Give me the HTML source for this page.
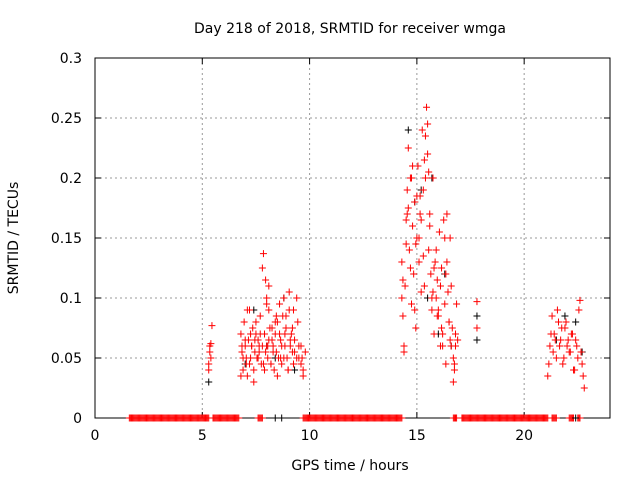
<!DOCTYPE html>
<html><head><meta charset="utf-8"><style>
body{margin:0;background:#fff}
svg{display:block;font-family:"DejaVu Sans","Liberation Sans",sans-serif}
</style></head><body>
<svg id="c" width="640" height="480" viewBox="0 0 640 480">
<rect width="640" height="480" fill="#fff"/>
<text x="350" y="33" font-size="14" text-anchor="middle" fill="#000">Day 218 of 2018, SRMTID for receiver wmga</text>
<text x="350" y="470" font-size="14" text-anchor="middle">GPS time / hours</text>
<text transform="translate(18,238) rotate(-90)" font-size="14" text-anchor="middle">SRMTID / TECUs</text>
<g id="grid"></g>
<g id="axes"></g>
<g id="zeros"></g>
<g id="black"></g>
<g id="red"></g>
</svg>
<script>
const xTicks=[0,5,10,15,20];
const yTicks=[0,0.05,0.1,0.15,0.2,0.25,0.3];
const yTickLabels=["0","0.05","0.1","0.15","0.2","0.25","0.3"];
const zeroRanges=[[1.6,5.3],[5.5,6.7],[7.6,7.8],[9.7,14.3],[16.7,16.85],[17.1,21.1],[21.3,21.5],[22.1,22.3],[22.5,22.6]];
const redHours=[5.3,5.35,5.4,5.3,5.45,5.35,5.4,
6.8,6.85,6.9,6.95,7.0,7.05,7.1,7.15,7.2,7.25,7.3,7.35,7.4,7.45,7.5,7.55,7.6,7.65,7.7,7.75,7.8,7.85,7.9,7.95,8.0,8.05,8.1,8.15,8.2,8.25,8.3,8.35,8.4,8.45,8.5,8.55,8.6,8.65,8.7,8.75,8.8,8.85,8.9,8.95,9.0,9.05,9.1,9.15,9.2,9.25,9.3,9.4,9.5,9.6,9.7,9.8,
6.8,6.9,7.0,7.1,7.2,7.3,7.4,7.5,7.6,7.7,7.8,7.9,8.0,8.1,8.2,8.3,8.4,8.5,8.6,8.7,8.8,8.9,9.0,9.1,9.2,9.3,9.4,9.5,9.6,9.7,
6.85,7.05,7.25,7.45,7.65,7.85,8.05,8.25,8.45,8.65,8.85,9.05,9.25,9.45,9.65,7.95,8.0,8.1,
14.3,14.35,14.4,14.45,14.5,14.55,14.6,14.65,14.7,14.75,14.8,14.85,14.9,14.95,15.0,15.05,15.1,15.15,15.2,15.25,15.3,15.35,15.4,15.45,15.5,15.55,15.6,15.65,15.7,15.75,15.8,15.85,15.9,15.95,16.0,16.05,16.1,16.15,16.2,16.25,16.3,16.35,16.4,16.45,16.5,16.55,16.6,16.65,16.7,16.75,16.8,16.85,16.9,
14.3,14.4,14.5,14.6,14.7,14.8,14.9,15.0,15.1,15.2,15.3,15.4,15.5,15.6,15.7,15.8,15.9,16.0,16.1,16.2,16.3,16.4,16.5,16.6,16.7,16.8,
14.35,14.55,14.75,14.95,15.15,15.35,15.55,15.75,15.95,16.15,16.35,16.55,16.75,
17.8,17.8,
21.1,21.2,21.3,21.4,21.5,21.6,21.7,21.8,21.9,22.0,22.1,22.2,22.3,22.4,22.5,22.6,22.7,22.8,
21.15,21.25,21.35,21.45,21.55,21.65,21.75,21.85,21.95,22.05,22.15,22.25,22.35,22.45,22.55,22.65,22.75];
const redValues=[0.045,0.055,0.062,0.04,0.077,0.06,0.05,
0.07,0.055,0.04,0.08,0.06,0.045,0.035,0.065,0.09,0.05,0.06,0.075,0.04,0.055,0.07,0.05,0.065,0.06,0.085,0.045,0.125,0.137,0.07,0.055,0.06,0.05,0.09,0.075,0.045,0.065,0.06,0.04,0.07,0.055,0.08,0.05,0.095,0.065,0.045,0.085,0.1,0.06,0.075,0.05,0.04,0.09,0.06,0.07,0.055,0.045,0.065,0.1,0.05,0.06,0.04,0.055,
0.035,0.05,0.065,0.09,0.045,0.06,0.03,0.08,0.05,0.07,0.06,0.04,0.1,0.065,0.045,0.055,0.08,0.035,0.07,0.06,0.05,0.085,0.04,0.065,0.075,0.055,0.05,0.06,0.045,0.035,
0.06,0.05,0.07,0.065,0.055,0.045,0.06,0.075,0.085,0.05,0.07,0.105,0.09,0.08,0.05,0.115,0.095,0.11,
0.13,0.085,0.06,0.11,0.165,0.19,0.225,0.14,0.2,0.095,0.16,0.12,0.18,0.075,0.15,0.21,0.13,0.17,0.105,0.24,0.19,0.11,0.235,0.259,0.22,0.14,0.16,0.12,0.09,0.2,0.07,0.13,0.1,0.115,0.085,0.155,0.06,0.125,0.07,0.165,0.095,0.045,0.13,0.105,0.08,0.065,0.06,0.075,0.05,0.04,0.07,0.095,0.065,
0.1,0.055,0.145,0.175,0.125,0.21,0.09,0.185,0.15,0.165,0.135,0.2,0.245,0.17,0.1,0.125,0.14,0.09,0.11,0.06,0.15,0.17,0.08,0.11,0.03,0.06,
0.115,0.17,0.2,0.145,0.185,0.215,0.205,0.105,0.085,0.075,0.12,0.15,0.045,
0.097,0.075,
0.035,0.06,0.085,0.07,0.05,0.08,0.065,0.045,0.075,0.06,0.055,0.07,0.04,0.065,0.05,0.098,0.045,0.025,
0.045,0.07,0.055,0.065,0.09,0.06,0.075,0.05,0.08,0.065,0.055,0.07,0.04,0.06,0.09,0.055,0.035];
const blackHours=[5.3,7.0,7.4,8.0,8.4,8.8,9.3,14.6,14.9,15.2,15.5,15.7,16.0,16.3,16.6,17.8,17.8,21.5,21.9,22.4,22.7,8.4,8.7,22.4];
const blackValues=[0.03,0.045,0.09,0.06,0.05,0.1,0.04,0.24,0.18,0.19,0.1,0.2,0.07,0.12,0.06,0.085,0.065,0.065,0.085,0.08,0.055,0,0,0];
const NS='http://www.w3.org/2000/svg';
const L=95,R=610,T=58,B=418;
const xs=h=>L+(R-L)*h/24, ys=v=>B-(B-T)*v/0.3;
function mk(tag,attrs,parent){const e=document.createElementNS(NS,tag);for(const k in attrs)e.setAttribute(k,attrs[k]);parent.appendChild(e);return e;}
const grid=document.getElementById('grid'),axes=document.getElementById('axes');
xTicks.forEach(t=>{const x=xs(t);
 if(t>0){const g=mk('line',{x1:x,x2:x,y1:T,y2:B,stroke:'#999','stroke-dasharray':'2,3','stroke-width':1},grid);
 
 }
 mk('line',{x1:x,x2:x,y1:B,y2:B-6,stroke:'#000'},axes);mk('line',{x1:x,x2:x,y1:T,y2:T+6,stroke:'#000'},axes);
 const tx=mk('text',{x:x,y:B+22,'font-size':14,'text-anchor':'middle'},axes);tx.textContent=t;
 
 });
yTicks.forEach((t,i)=>{const y=ys(t);
 if(t>0&&t<0.3){const g=mk('line',{x1:L,x2:R,y1:y,y2:y,stroke:'#999','stroke-dasharray':'2,3','stroke-width':1},grid);
 
 }
 mk('line',{x1:L,x2:L+6,y1:y,y2:y,stroke:'#000'},axes);mk('line',{x1:R,x2:R-6,y1:y,y2:y,stroke:'#000'},axes);
 const tx=mk('text',{x:L-13,y:y+5,'font-size':14,'text-anchor':'end'},axes);tx.textContent=yTickLabels[i];
 
 });
const fr=mk('rect',{x:L,y:T,width:R-L,height:B-T,fill:'none',stroke:'#000'},axes);


function plus(g,h,v,col,name){const x=xs(h),y=ys(v);
 const p=mk('path',{d:`M${x-3.5},${y}h7M${x},${y-3.5}v7`,stroke:col,'stroke-width':1,fill:'none'},g);
 
 }
const zg=document.getElementById('zeros');
zeroRanges.forEach(r=>{for(let h=r[0];h<=r[1]+1e-9;h+=0.05)plus(zg,h,0,'#f00','zero-point');});
const bg=document.getElementById('black');
blackHours.forEach((h,i)=>plus(bg,h,blackValues[i],'#000','black-point'));
const rg=document.getElementById('red');
redHours.forEach((h,i)=>plus(rg,h,redValues[i],'#f00','red-point'));
</script>
</body></html>
